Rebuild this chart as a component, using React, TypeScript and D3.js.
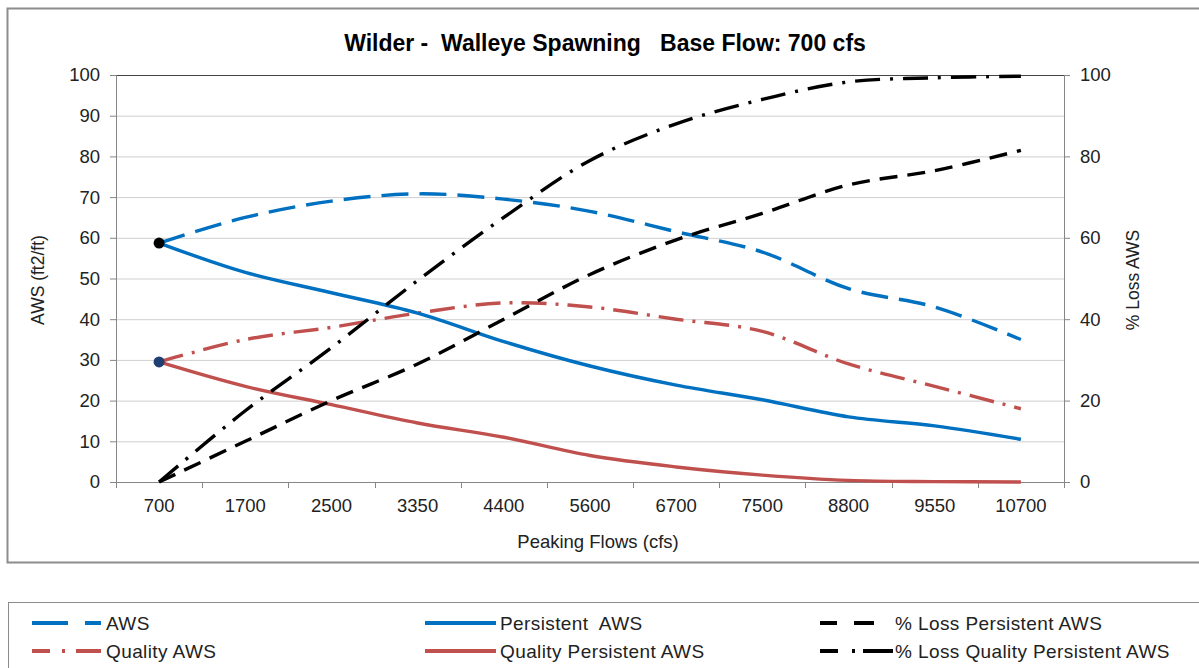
import React, { useEffect, useRef } from "react";
import * as d3 from "d3";

// peaking flows (cfs)
const categories = ["700", "1700", "2500", "3350", "4400", "5600", "6700", "7500", "8800", "9550", "10700"];

// left axis series (AWS ft2/ft)
const aws = [58.7, 65, 69, 70.8, 69.5, 66.5, 61.5, 56.5, 47.5, 43, 35];
const persistentAws = [58.7, 51.5, 46.5, 41.5, 34.5, 28.5, 23.8, 20.2, 16, 13.8, 10.5];
const qualityAws = [29.5, 35, 38, 41.5, 44, 43, 40, 37, 29, 23.5, 18];
const qualityPersistentAws = [29.5, 23.5, 19, 14.5, 11, 6.5, 3.7, 1.7, 0.4, 0.1, 0];

// right axis series (% loss)
const lossPersistent = [0, 10, 20, 29, 40, 51, 59.5, 66, 73, 76.5, 81.5];
const lossQualityPersistent = [0, 17.5, 33, 49.5, 65, 79, 88, 94, 98.3, 99.3, 99.7];

// base flow markers
const baseMarkers = [
    { cat: "700", value: 58.7, color: "#000000" },
    { cat: "700", value: 29.5, color: "#1F3F73" },
];

const leftTicks = [0, 10, 20, 30, 40, 50, 60, 70, 80, 90, 100];
const rightTicks = [0, 20, 40, 60, 80, 100];

const BLUE = "#0070C0";
const RED = "#C0504D";
const BLACK = "#000000";

const series = [
    { name: "AWS", values: aws, color: BLUE, dash: "27,11", axis: "left", legendDash: "36,17,20" },
    { name: "Quality AWS", values: qualityAws, color: RED, dash: "25,9,3,9", axis: "left", legendDash: "18,12,3,11,30" },
    { name: "Persistent  AWS", values: persistentAws, color: BLUE, dash: null, axis: "left", legendDash: null },
    { name: "Quality Persistent AWS", values: qualityPersistentAws, color: RED, dash: null, axis: "left", legendDash: null },
    { name: "% Loss Persistent AWS", values: lossPersistent, color: BLACK, dash: "18,10", axis: "right", legendDash: "17,17,20,40" },
    { name: "% Loss Quality Persistent AWS", values: lossQualityPersistent, color: BLACK, dash: "25,10,3,10", axis: "right", legendDash: "18,14,3,8,30" },
];

const FONT = "'Liberation Sans', Arial, sans-serif";
const TICK_SIZE = 18.5;

const App = () => {
    const svgRef = useRef(null);

    useEffect(() => {
        const svg = d3.select(svgRef.current);
        svg.selectAll("*").remove();

        const plot = { left: 116, right: 1064, top: 75, bottom: 482 };

        const xScale = d3
            .scaleBand()
            .domain(categories)
            .range([plot.left, plot.right]);
        const xc = (c) => xScale(c) + xScale.bandwidth() / 2;
        const yLeft = d3.scaleLinear().domain([0, 100]).range([plot.bottom, plot.top]);
        const yRight = d3.scaleLinear().domain([0, 100]).range([plot.bottom, plot.top]);

        // chart frame
        svg.append("rect")
            .attr("x", 7.5)
            .attr("y", 8.5)
            .attr("width", 1200)
            .attr("height", 554)
            .attr("fill", "#fff")
            .attr("stroke", "#8c8c8c")
            .attr("stroke-width", 2);

        // title
        svg.append("text")
            .attr("x", 605)
            .attr("y", 51)
            .attr("text-anchor", "middle")
            .attr("font-family", FONT)
            .attr("font-weight", "bold")
            .attr("font-size", 23)
            .style("white-space", "pre")
            .text("Wilder -  Walleye Spawning   Base Flow: 700 cfs");

        // gridlines
        svg.append("g")
            .attr("transform", `translate(${plot.left},0)`)
            .call(d3.axisLeft(yLeft).tickValues(leftTicks).tickSize(-(plot.right - plot.left)).tickFormat(() => ""))
            .call((g) => g.select(".domain").remove())
            .call((g) => g.selectAll(".tick line").attr("stroke", "#cfcfcf").attr("stroke-width", 1));

        // top border line
        svg.append("line")
            .attr("x1", plot.left)
            .attr("x2", plot.right)
            .attr("y1", plot.top + 0.5)
            .attr("y2", plot.top + 0.5)
            .attr("stroke", "#444")
            .attr("stroke-width", 1);

        // left axis
        svg.append("g")
            .attr("transform", `translate(${plot.left},0)`)
            .call(d3.axisLeft(yLeft).tickValues(leftTicks).tickSize(6).tickPadding(10))
            .call((g) => g.select(".domain").attr("stroke", "#868686"))
            .call((g) => g.selectAll(".tick line").attr("stroke", "#868686"))
            .call((g) =>
                g.selectAll("text").attr("font-family", FONT).attr("font-size", TICK_SIZE).attr("fill", "#222")
            );

        // right axis
        svg.append("g")
            .attr("transform", `translate(${plot.right},0)`)
            .call(d3.axisRight(yRight).tickValues(rightTicks).tickSize(6).tickPadding(10))
            .call((g) => g.select(".domain").attr("stroke", "#868686"))
            .call((g) => g.selectAll(".tick line").attr("stroke", "#868686"))
            .call((g) =>
                g.selectAll("text").attr("font-family", FONT).attr("font-size", TICK_SIZE).attr("fill", "#222")
            );

        // x axis: baseline, ticks at band edges, labels at centres
        const xAxis = svg.append("g");
        xAxis.append("line")
            .attr("x1", plot.left)
            .attr("x2", plot.right)
            .attr("y1", plot.bottom + 0.5)
            .attr("y2", plot.bottom + 0.5)
            .attr("stroke", "#868686");
        const edges = categories.map((c) => xScale(c)).concat([plot.right]);
        xAxis.selectAll("line.xt")
            .data(edges)
            .enter()
            .append("line")
            .attr("class", "xt")
            .attr("x1", (d) => Math.round(d) + 0.5)
            .attr("x2", (d) => Math.round(d) + 0.5)
            .attr("y1", plot.bottom)
            .attr("y2", plot.bottom + 6)
            .attr("stroke", "#868686");
        xAxis.selectAll("text")
            .data(categories)
            .enter()
            .append("text")
            .attr("x", (d) => xc(d))
            .attr("y", plot.bottom + 30)
            .attr("text-anchor", "middle")
            .attr("font-family", FONT)
            .attr("font-size", TICK_SIZE)
            .attr("fill", "#222")
            .text((d) => d);

        // axis titles
        svg.append("text")
            .attr("x", 598)
            .attr("y", 548)
            .attr("text-anchor", "middle")
            .attr("font-family", FONT)
            .attr("font-size", TICK_SIZE)
            .attr("fill", "#222")
            .text("Peaking Flows (cfs)");
        svg.append("text")
            .attr("transform", `translate(44,280) rotate(-90)`)
            .attr("text-anchor", "middle")
            .attr("font-family", FONT)
            .attr("font-size", 17.5)
            .attr("fill", "#222")
            .text("AWS (ft2/ft)");
        svg.append("text")
            .attr("transform", `translate(1139,280) rotate(-90)`)
            .attr("text-anchor", "middle")
            .attr("font-family", FONT)
            .attr("font-size", 17.5)
            .attr("fill", "#222")
            .text("% Loss AWS");

        // series lines
        series.forEach((s) => {
            const yS = s.axis === "left" ? yLeft : yRight;
            const line = d3
                .line<number>()
                .x((_, i) => xc(categories[i]))
                .y((d) => yS(d))
                .curve(d3.curveCatmullRom.alpha(0.5));
            svg.append("path")
                .datum(s.values)
                .attr("fill", "none")
                .attr("stroke", s.color)
                .attr("stroke-width", 3.4)
                .attr("stroke-dasharray", s.dash)
                .attr("d", line);
        });

        // base flow markers
        svg.selectAll("circle.base")
            .data(baseMarkers)
            .enter()
            .append("circle")
            .attr("class", "base")
            .attr("cx", (d) => xc(d.cat))
            .attr("cy", (d) => yLeft(d.value))
            .attr("r", 5.5)
            .attr("fill", (d) => d.color);

        // legend
        svg.append("rect")
            .attr("x", 8.5)
            .attr("y", 602.5)
            .attr("width", 1200)
            .attr("height", 80)
            .attr("fill", "#fff")
            .attr("stroke", "#8c8c8c")
            .attr("stroke-width", 1);

        const legendCols = [
            { x0: 32, x1: 101, tx: 106 },
            { x0: 425, x1: 496, tx: 500 },
            { x0: 820, x1: 893, tx: 895 },
        ];
        const legendRows = [623, 651];
        series.forEach((s, i) => {
            const col = legendCols[Math.floor(i / 2)];
            const y = legendRows[i % 2];
            svg.append("line")
                .attr("x1", col.x0)
                .attr("x2", col.x1)
                .attr("y1", y)
                .attr("y2", y)
                .attr("stroke", s.color)
                .attr("stroke-width", 4)
                .attr("stroke-dasharray", s.legendDash);
            svg.append("text")
                .attr("x", col.tx)
                .attr("y", y + 7)
                .attr("font-family", FONT)
                .attr("font-size", 19)
                .attr("letter-spacing", 0.4)
                .attr("fill", "#222")
                .style("white-space", "pre")
                .text(s.name);
        });
    }, []);

    return (
        <div style={{ position: "absolute", left: 0, top: 0 }}>
            <svg ref={svgRef} width={1199} height={668} style={{ display: "block" }}></svg>
        </div>
    );
};

export default App;
